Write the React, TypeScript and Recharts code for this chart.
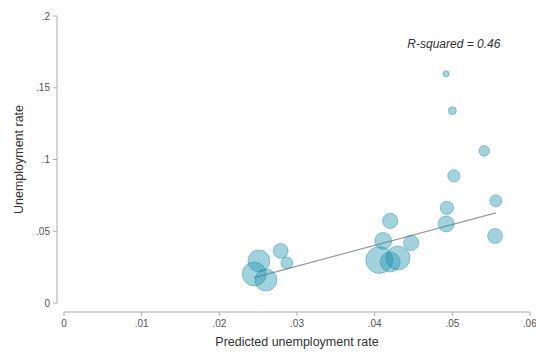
import { ScatterChart, Scatter, XAxis, YAxis, ZAxis, ReferenceDot } from 'recharts'

// predicted rate, observed rate and population weight for each area
const predicted = [
  0.0492, 0.05, 0.0541, 0.0502, 0.0493, 0.0492, 0.0556, 0.0555,
  0.042, 0.0411, 0.0447, 0.0406, 0.042, 0.043,
  0.0279, 0.0287, 0.0251, 0.0245, 0.026,
]
const observed = [
  0.1597, 0.134, 0.106, 0.0886, 0.0663, 0.0551, 0.0712, 0.0467,
  0.0572, 0.0433, 0.0419, 0.03, 0.0286, 0.0314,
  0.0363, 0.0279, 0.0293, 0.0202, 0.016,
]
const weight = [
  10, 16, 28, 38, 45, 64, 36, 56,
  59, 72, 59, 182, 100, 144,
  56, 36, 121, 144, 121,
]

// end points of the fitted line
const fitX = [0.0245, 0.0556]
const fitY = [0.0177, 0.0628]

const xTicks = [0, 0.01, 0.02, 0.03, 0.04, 0.05, 0.06]
const yTicks = [0, 0.05, 0.1, 0.15, 0.2]

const points = predicted.map((x, i) => ({ x, y: observed[i], w: weight[i] }))
const fit = fitX.map((x, i) => ({ x, y: fitY[i] }))

// Stata style: drop the leading zero, keep a bare 0
const fmt = (v: number) => (v === 0 ? '0' : String(v).replace(/^0/, ''))

const tickStyle = { fill: '#555', fontSize: 10, fontFamily: 'Liberation Sans, Arial, sans-serif' }
const titleStyle = { fill: '#333', fontSize: 12.5, fontFamily: 'Liberation Sans, Arial, sans-serif' }

export default function App() {
  return (
    <div style={{ position: 'absolute', left: 0, top: 0, background: '#fff' }}>
      {/* pull the axis lines away from the plot region, leaving a gap at the corner */}
      <style>{`
        .recharts-yAxis { transform: translate(-7px, 0); }
        .recharts-xAxis { transform: translate(0, 9px); }
      `}</style>
      <ScatterChart width={536} height={356} margin={{ top: 16, right: 6, left: 0, bottom: 0 }}>
        <XAxis
          type="number"
          dataKey="x"
          domain={[0, 0.06]}
          ticks={xTicks}
          tickFormatter={fmt}
          tick={tickStyle}
          stroke="#aaa"
          tickSize={4}
          tickMargin={13}
          height={53}
          label={{ value: 'Predicted unemployment rate', position: 'insideBottom', offset: 10, style: titleStyle }}
        />
        <YAxis
          type="number"
          dataKey="y"
          domain={[0, 0.2]}
          ticks={yTicks}
          tickFormatter={fmt}
          tick={tickStyle}
          stroke="#aaa"
          tickSize={4}
          tickMargin={10}
          width={64}
          label={{
            value: 'Unemployment rate',
            angle: -90,
            position: 'insideLeft',
            offset: 19,
            style: { ...titleStyle, textAnchor: 'middle' },
          }}
        />
        <ZAxis type="number" dataKey="w" domain={[0, 200]} range={[0, 628]} />
        <Scatter
          data={fit}
          line={{ stroke: '#9a9a9a', strokeWidth: 1.2 }}
          shape={() => null}
          isAnimationActive={false}
        />
        <Scatter
          data={points}
          fill="#1f94ad"
          fillOpacity={0.42}
          stroke="#1a8aa2"
          strokeOpacity={0.4}
          strokeWidth={1}
          isAnimationActive={false}
        />
        <ReferenceDot
          x={0.0502}
          y={0.1807}
          r={0}
          fill="none"
          stroke="none"
          label={{
            value: 'R-squared = 0.46',
            position: 'center',
            style: { fill: '#333', fontSize: 12, fontStyle: 'italic', fontFamily: 'Liberation Sans, Arial, sans-serif' },
          }}
        />
      </ScatterChart>
    </div>
  )
}
